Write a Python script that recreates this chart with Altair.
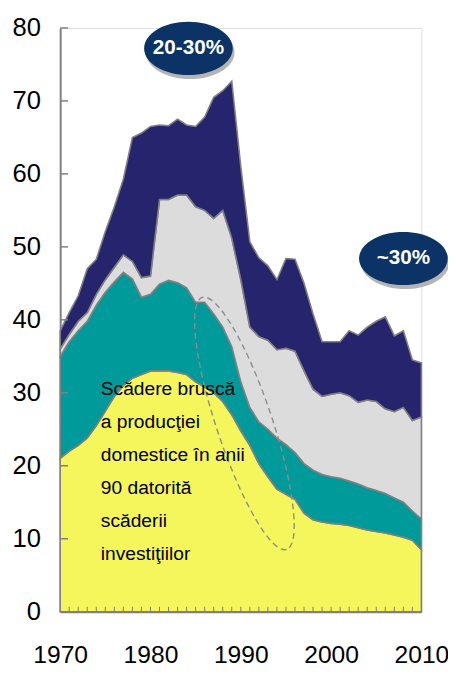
import altair as alt
import pandas as pd

# ---- data (cumulative tops of the stacked layers) ----
years = list(range(1970, 2011))
top_yellow = [21.0, 22.0, 22.8, 23.8, 25.5, 27.5, 29.5, 31.0, 32.0, 32.5,
              33.0, 33.0, 33.0, 32.8, 32.5, 31.5, 30.8, 30.0, 28.8, 27.0,
              24.8, 22.8, 20.3, 18.5, 16.8, 16.1, 15.4, 13.5, 12.6, 12.3,
              12.1, 12.0, 11.8, 11.5, 11.2, 11.0, 10.8, 10.5, 10.2, 9.8, 8.5]
top_teal = [35.0, 37.0, 38.5, 39.8, 42.0, 43.8, 45.2, 46.5, 45.6, 43.1,
            43.5, 44.9, 45.4, 45.1, 44.4, 42.4, 42.4, 40.8, 39.0, 36.3,
            31.5, 28.0, 26.0, 25.0, 23.8, 22.9, 21.8, 20.3, 19.4, 18.8,
            18.5, 18.3, 17.9, 17.5, 17.0, 16.6, 16.2, 15.6, 15.0, 13.8, 12.7]
top_gray = [36.0, 38.0, 39.8, 41.0, 43.5, 45.5, 47.2, 48.9, 48.0, 45.8,
            46.0, 56.5, 56.5, 57.1, 57.1, 55.5, 55.0, 53.9, 55.0, 51.2,
            45.5, 39.0, 37.7, 37.2, 35.9, 36.1, 35.7, 33.0, 30.5, 29.5,
            29.8, 30.0, 29.6, 28.7, 29.0, 28.8, 27.8, 27.4, 28.0, 26.2, 26.7]
top_navy = [38.5, 41.0, 43.3, 47.0, 48.3, 52.1, 55.5, 59.3, 65.0, 65.6,
            66.5, 66.7, 66.6, 67.5, 66.7, 66.5, 67.8, 70.5, 71.4, 72.7,
            61.0, 50.7, 48.5, 47.4, 45.5, 48.4, 48.3, 45.0, 40.8, 37.0,
            37.0, 37.0, 38.5, 37.9, 39.0, 39.8, 40.4, 37.8, 38.5, 34.5, 34.1]

layer_names = ["serie 1", "serie 2", "serie 3", "serie 4"]
layer_colors = ["#F5F55C", "#009A9A", "#DCDCDC", "#25246C"]

y_ticks = [0, 10, 20, 30, 40, 50, 60, 70, 80]
x_labels = [1970, 1980, 1990, 2000, 2010]

note_lines = ["Scădere bruscă", "a producţiei", "domestice în anii",
              "90 datorită", "scăderii", "investiţiilor"]
bubble_texts = ["20-30%", "~30%"]
bubble_years = [1984.2, 2008.0]
bubble_values = [77.2, 48.4]

# ---- build tables ----
tops = [top_yellow, top_teal, top_gray, top_navy]
rows = []
for li, name in enumerate(layer_names):
    for i, yr in enumerate(years):
        bottom = 0.0 if li == 0 else tops[li - 1][i]
        rows.append({"year": yr, "layer": name, "top": tops[li][i], "bottom": bottom})
df = pd.DataFrame(rows)

W, H = 367, 593
FONT = "Liberation Sans, Arial, sans-serif"
AX = "#808080"

xs = alt.Scale(domain=[1970, 2010], nice=False, zero=False)
ys = alt.Scale(domain=[0, 80], nice=False)

areas = alt.Chart(df).mark_area(stroke=AX, strokeWidth=1.6, interpolate="linear").encode(
    x=alt.X("year:Q", scale=xs,
            axis=alt.Axis(values=x_labels, format="d", title=None, ticks=False,
                          grid=False, labelPadding=32, labelFontSize=25,
                          labelFont=FONT, labelColor="#000000", domainColor=AX,
                          domainWidth=2, labelFlush=False, labelOverlap=False)),
    y=alt.Y("top:Q", scale=ys,
            axis=alt.Axis(values=y_ticks, title=None, ticks=False, grid=False,
                          labelPadding=20, labelFontSize=26, labelFont=FONT,
                          labelColor="#000000", domainColor=AX, domainWidth=2,
                          labelFlush=False, labelOverlap=False)),
    y2="bottom:Q",
    color=alt.Color("layer:N", scale=alt.Scale(domain=layer_names, range=layer_colors),
                    legend=None),
    order=alt.Order("layer:N"),
)

ytick_df = pd.DataFrame({"v": y_ticks})
yticks = alt.Chart(ytick_df).mark_rule(color=AX, strokeWidth=1.5).encode(
    y=alt.Y("v:Q", scale=ys), x=alt.value(0), x2=alt.value(8))

xtick_df = pd.DataFrame({"yr": years[1:-1]})
xticks = alt.Chart(xtick_df).mark_rule(color=AX, strokeWidth=1).encode(
    x=alt.X("yr:Q", scale=xs), y=alt.value(H), y2=alt.value(H - 5))

# dashed tilted ellipse
ell_df = pd.DataFrame({"x": [1990.4], "y": [25.8]})
ellipse = alt.Chart(ell_df).mark_point(
    shape="M0,-1 A0.21,1 0 1,1 0,1 A0.21,1 0 1,1 0,-1 Z",
    size=72900, angle=161.5, filled=False, stroke="#8C8C8C", strokeWidth=1.4,
    strokeDash=[6, 4], opacity=1).encode(
    x=alt.X("x:Q", scale=xs), y=alt.Y("y:Q", scale=ys))

note_df = pd.DataFrame({"x": [1974.5], "y": [31.7], "t": [note_lines]})
note = alt.Chart(note_df).mark_text(align="left", baseline="top", fontSize=19.5,
                                    lineHeight=33.5, font=FONT, color="#000000").encode(
    x=alt.X("x:Q", scale=xs), y=alt.Y("y:Q", scale=ys), text="t")

bub_df = pd.DataFrame({"x": bubble_years, "y": bubble_values, "t": bubble_texts})
ell_shape = "M-1,0 A1,0.6 0 1,1 1,0 A1,0.6 0 1,1 -1,0 Z"
shadow_shape = "M-0.96,0.09 A1,0.6 0 1,1 1.04,0.09 A1,0.6 0 1,1 -0.96,0.09 Z"
bub_shadow = alt.Chart(bub_df).mark_point(shape=shadow_shape, size=8100, filled=True,
                                          color="#B4B4B4", opacity=1).encode(
    x=alt.X("x:Q", scale=xs), y=alt.Y("y:Q", scale=ys))
bub = alt.Chart(bub_df).mark_point(shape=ell_shape, size=8100, filled=True,
                                   color="#0B3366", opacity=1).encode(
    x=alt.X("x:Q", scale=xs), y=alt.Y("y:Q", scale=ys))
bub_text = alt.Chart(bub_df).mark_text(fontSize=21, fontWeight="bold", font=FONT,
                                       color="#FFFFFF", baseline="middle").encode(
    x=alt.X("x:Q", scale=xs), y=alt.Y("y:Q", scale=ys), text="t:N")

chart = alt.layer(areas, yticks, xticks, ellipse, note, bub_shadow, bub, bub_text).properties(
    width=W, height=H,
    autosize=alt.AutoSizeParams(type="none"),
    padding={"left": 53, "top": 15, "right": 27, "bottom": 58},
).configure_view(stroke=None).configure(background="#FFFFFF")

chart.save("out.html", embed_options={"renderer": "svg", "actions": False})
